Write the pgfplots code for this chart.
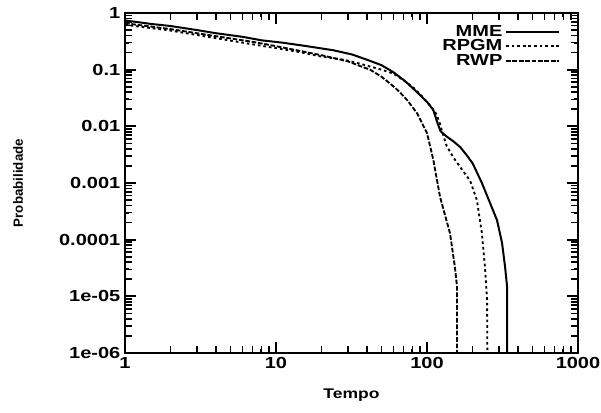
\documentclass[border=0pt]{standalone}
\usepackage{fontspec}
\setmainfont{Liberation Sans}[FakeStretch=1.25]
\newfontfamily\rotfont{Liberation Sans}
\usepackage{pgfplots}
\pgfplotsset{compat=1.18}
\begin{document}
\begin{tikzpicture}
\begin{axis}[
  xmode=log, ymode=log,
  scale only axis, width=339.75pt, height=255pt,
  xmin=1, xmax=1000, ymin=1e-6, ymax=1,
  xtick={1,10,100,1000}, xticklabels={1,10,100,1000},
  ytick={1e-6,1e-5,1e-4,1e-3,1e-2,1e-1,1},
  yticklabels={1e-06,1e-05,0.0001,0.001,0.01,0.1,1},
  tick align=inside,
  axis on top,
  clip mode=individual,
  /pgf/number format/assume math mode=true,
  tick label style={font=\fontsize{12}{13}\selectfont\bfseries},
  axis line style={line width=1.6pt},
  major tick length=8pt,
  tick style={draw=black, line width=1.3pt},
  xlabel={Tempo}, ylabel={Probabilidade},
  xlabel style={font=\fontsize{10.5}{12}\selectfont\bfseries, at={(axis description cs:0.5,-0.124)}, anchor=center},
  ylabel style={font=\rotfont\fontsize{10}{12}\selectfont\bfseries, at={(axis description cs:-0.236,0.5)}, anchor=center},
  legend style={at={(rel axis cs:1,1)}, anchor=north east, xshift=-10pt, yshift=-5pt, draw=none, fill=none,
    font=\fontsize{12}{13}\selectfont\bfseries, row sep=-3pt},
  legend cell align=right,
  legend plot pos=right,
  legend image code/.code={\draw[#1] (12pt,0pt) -- (52pt,0pt);},
]
\addplot[black, line width=1.5pt] coordinates {
(1,0.74) (1.5,0.64) (2,0.59) (3,0.5) (4,0.44) (6,0.38) (8,0.33) (11,0.30) (16,0.26) (24,0.22) (32,0.185) (40,0.15) (50,0.12) (60,0.09)
(72,0.062) (86,0.04) (100,0.027) (110,0.0195) (118,0.011) (123,0.0082) (130,0.0072) (135,0.0066) (150,0.0054) (166,0.0043) (185,0.003) (201,0.0022)
(231,0.001) (261,4.5e-4) (291,2.2e-4) (314,8.8e-5) (329,3.3e-5) (339,1.5e-5) (340,2.6e-6) (340,1e-6)
};
\addlegendentry{MME}
\addplot[black, line width=1.4pt, dash pattern=on 2pt off 2.2pt] coordinates {
(1,0.62) (2,0.49) (4,0.36) (7,0.28) (10,0.24) (15,0.2) (20,0.17) (28,0.15) (35,0.13) (50,0.1) (60,0.085) (70,0.065) (80,0.05) (90,0.037)
(100,0.027) (110,0.02) (116,0.016) (122,0.011) (127,0.0075) (135,0.0045) (150,0.0028) (166,0.0019) (193,0.0011) (214,5e-4)
(231,1.3e-4) (242,3.3e-5) (250,8.7e-6) (251,1e-6)
};
\addlegendentry{RPGM}
\addplot[black, line width=1.4pt, dash pattern=on 3.5pt off 1.3pt] coordinates {
(1,0.66) (2,0.52) (4,0.39) (7,0.31) (10,0.26) (15,0.21) (20,0.18) (30,0.14) (38,0.11) (42,0.1) (50,0.075)
(61,0.049) (66,0.04) (74,0.029) (86,0.017) (100,0.0076) (110,0.0026) (122,5.7e-4)
(142,1.3e-4) (153,3.3e-5) (158,1.5e-5) (158,1e-6)
};
\addlegendentry{RWP}
\pgfplotsinvokeforeach{2,3,4,5,6,7,8,9,20,30,40,50,60,70,80,90,200,300,400,500,600,700,800,900}{
  \draw[black, line width=1.2pt] (axis cs:#1,1e-6) -- ++(0pt,5pt);
  \draw[black, line width=1.2pt] (axis cs:#1,1) -- ++(0pt,-5pt);
}
\pgfplotsinvokeforeach{10,100}{
  \draw[black, line width=1.3pt] (axis cs:#1,1e-6) -- ++(0pt,8pt);
  \draw[black, line width=1.3pt] (axis cs:#1,1) -- ++(0pt,-8pt);
}
\pgfplotsinvokeforeach{2e-6,3e-6,4e-6,5e-6,6e-6,7e-6,8e-6,9e-6,
                 2e-5,3e-5,4e-5,5e-5,6e-5,7e-5,8e-5,9e-5,
                 2e-4,3e-4,4e-4,5e-4,6e-4,7e-4,8e-4,9e-4,
                 2e-3,3e-3,4e-3,5e-3,6e-3,7e-3,8e-3,9e-3,
                 2e-2,3e-2,4e-2,5e-2,6e-2,7e-2,8e-2,9e-2,
                 2e-1,3e-1,4e-1,5e-1,6e-1,7e-1,8e-1,9e-1}{
  \draw[black, line width=1.2pt] (axis cs:1,#1) -- ++(5pt,0pt);
  \draw[black, line width=1.2pt] (axis cs:1000,#1) -- ++(-5pt,0pt);
}
\pgfplotsinvokeforeach{1e-5,1e-4,1e-3,1e-2,1e-1}{
  \draw[black, line width=1.3pt] (axis cs:1,#1) -- ++(8pt,0pt);
  \draw[black, line width=1.3pt] (axis cs:1000,#1) -- ++(-8pt,0pt);
}
\coordinate (SW) at (rel axis cs:0,0);
\coordinate (NE) at (rel axis cs:1,1);
\end{axis}
\pgfresetboundingbox
\path[use as bounding box] ([shift={(-93.75pt,-44.25pt)}]SW) rectangle ([shift={(17.25pt,9.75pt)}]NE);
\end{tikzpicture}
\end{document}
